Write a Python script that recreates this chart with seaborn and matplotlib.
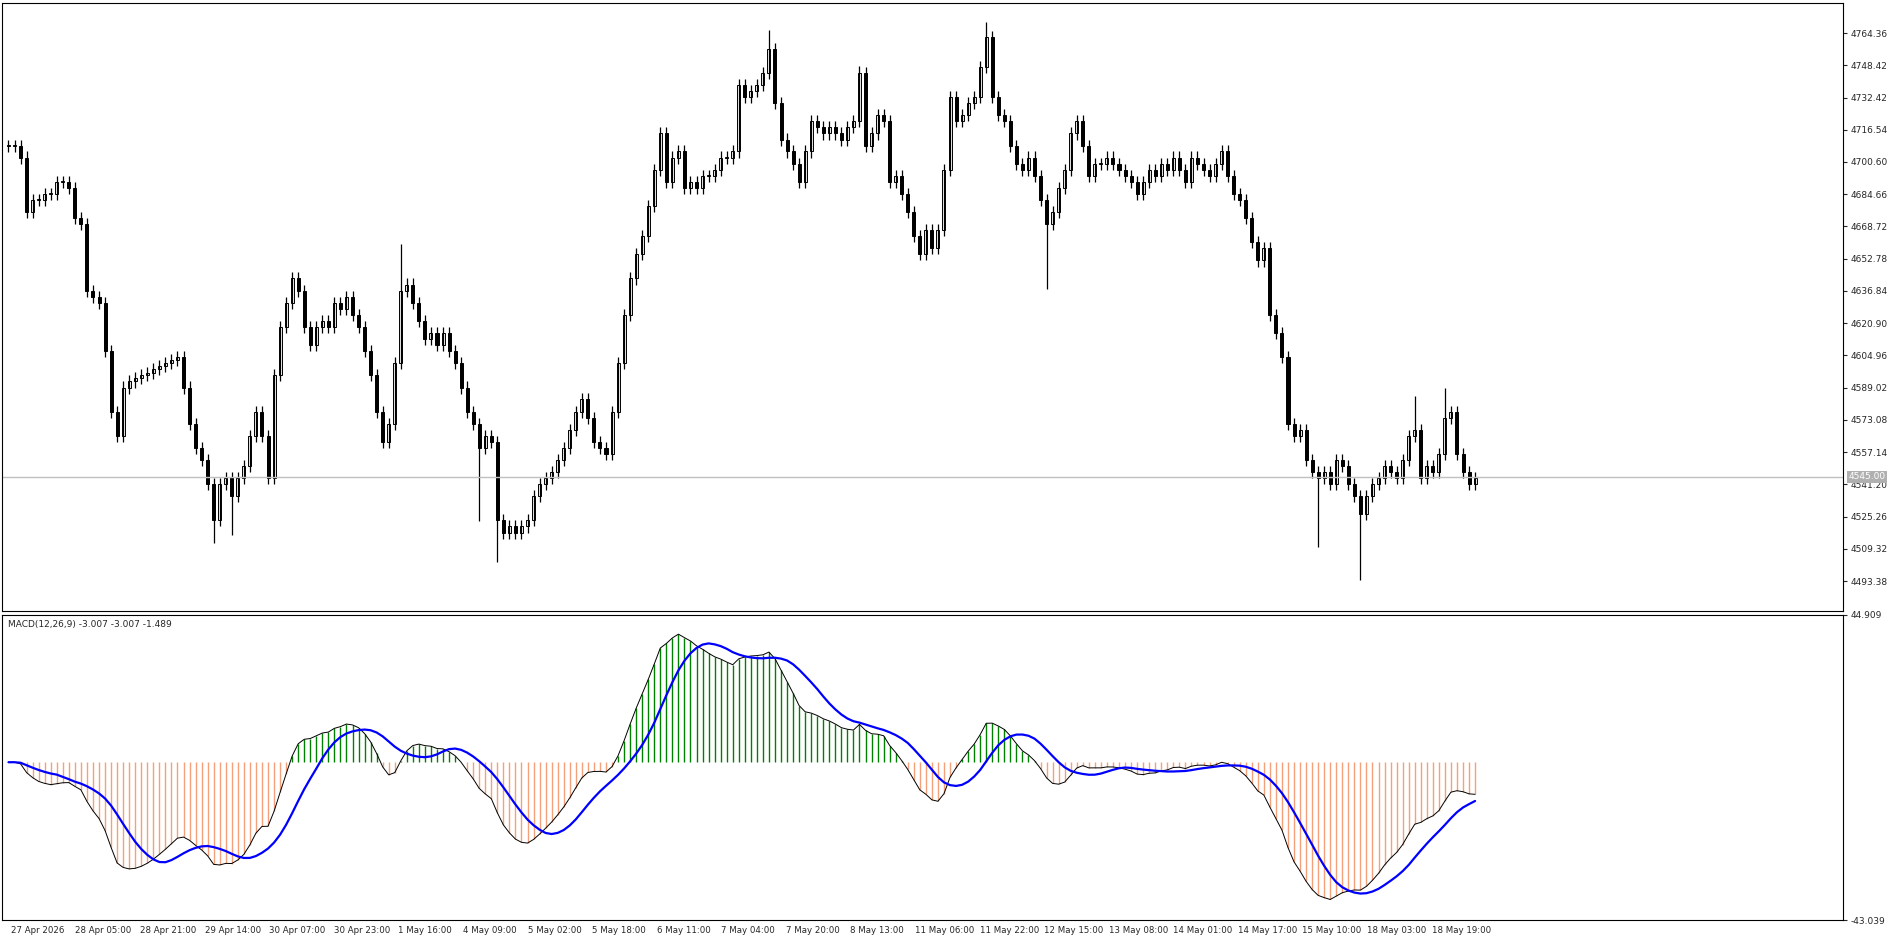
import numpy as np
import pandas as pd
import seaborn as sns
import matplotlib.pyplot as plt

# closes (about one bar every 1.5 hours)
closes = [
    4708.7, 4708.7, 4702.8, 4675.9, 4681.8, 4681.8, 4684.8, 4684.8, 4690.8, 4690.8,
    4687.8, 4672.9, 4669.9, 4637.0, 4634.0, 4631.0, 4607.1, 4577.2, 4565.2, 4589.1,
    4592.1, 4593.9, 4595.1, 4596.3, 4598.1, 4599.9, 4601.1, 4602.9, 4604.1, 4589.1,
    4571.2, 4559.2, 4553.3, 4541.3, 4523.4, 4541.3, 4544.3, 4535.3, 4544.3, 4550.3,
    4565.2, 4577.2, 4565.2, 4544.3, 4595.1, 4619.0, 4631.0, 4643.0, 4637.0, 4619.0,
    4610.1, 4619.0, 4622.0, 4619.0, 4631.0, 4628.0, 4634.0, 4625.0, 4619.0, 4607.1,
    4595.1, 4577.2, 4562.2, 4571.2, 4601.1, 4637.0, 4640.0, 4631.0, 4622.0, 4613.1,
    4616.0, 4610.1, 4616.0, 4607.1, 4601.1, 4589.1, 4577.2, 4571.2, 4559.2, 4565.2,
    4562.2, 4523.4, 4517.4, 4520.4, 4517.4, 4520.4, 4523.4, 4535.3, 4541.3, 4544.3,
    4547.3, 4553.3, 4559.2, 4568.2, 4577.2, 4583.2, 4574.2, 4562.2, 4559.2, 4556.3,
    4577.2, 4601.1, 4625.0, 4643.0, 4654.9, 4663.9, 4678.8, 4696.8, 4714.7, 4690.8,
    4702.8, 4705.8, 4687.8, 4690.8, 4687.8, 4693.8, 4693.8, 4696.8, 4702.8, 4702.8,
    4705.8, 4738.6, 4732.7, 4735.6, 4738.6, 4744.6, 4756.6, 4729.7, 4711.7, 4705.8,
    4699.8, 4690.8, 4705.8, 4720.7, 4717.7, 4714.7, 4717.7, 4714.7, 4711.7, 4717.7,
    4720.7, 4744.6, 4708.7, 4714.7, 4723.7, 4720.7, 4690.8, 4693.8, 4684.8, 4675.9,
    4663.9, 4654.9, 4666.9, 4657.9, 4666.9, 4696.8, 4732.7, 4720.7, 4723.7, 4729.7,
    4732.7, 4747.6, 4762.6, 4732.7, 4723.7, 4720.7, 4708.7, 4699.8, 4696.8, 4702.8,
    4693.8, 4681.8, 4669.9, 4675.9, 4687.8, 4696.8, 4714.7, 4720.7, 4708.7, 4693.8,
    4699.8, 4699.8, 4702.8, 4699.8, 4696.8, 4693.8, 4690.8, 4684.8, 4690.8, 4696.8,
    4693.8, 4699.8, 4696.8, 4702.8, 4696.8, 4690.8, 4702.8, 4699.8, 4696.8, 4693.8,
    4699.8, 4705.8, 4693.8, 4684.8, 4681.8, 4672.9, 4660.9, 4651.9, 4657.9, 4625.0,
    4616.0, 4604.1, 4571.2, 4565.2, 4568.2, 4553.3, 4547.3, 4544.3, 4547.3, 4541.3,
    4553.3, 4550.3, 4541.3, 4535.3, 4526.4, 4535.3, 4541.3, 4544.3, 4550.3, 4547.3,
    4544.3, 4553.3, 4565.2, 4568.2, 4544.3, 4550.3, 4547.3, 4556.3, 4574.2, 4577.2,
    4556.3, 4547.3, 4541.3, 4544.3,
]
# long wicks visible on the chart: bar index -> extreme price
spike_lows = {34: 4512, 37: 4516, 78: 4523, 81: 4503, 172: 4638, 217: 4510, 224: 4494}
spike_highs = {65: 4660, 126: 4766, 141: 4748, 162: 4770, 233: 4585, 238: 4589}
wick = 3.0
current_price = 4545.0

price_ticks = [4493.38, 4509.32, 4525.26, 4541.20, 4557.14, 4573.08, 4589.02, 4604.96,
               4620.90, 4636.84, 4652.78, 4668.72, 4684.66, 4700.60, 4716.54, 4732.42,
               4748.42, 4764.36]
time_labels = ["27 Apr 2026", "28 Apr 05:00", "28 Apr 21:00", "29 Apr 14:00", "30 Apr 07:00",
               "30 Apr 23:00", "1 May 16:00", "4 May 09:00", "5 May 02:00", "5 May 18:00",
               "6 May 11:00", "7 May 04:00", "7 May 20:00", "8 May 13:00", "11 May 06:00",
               "11 May 22:00", "12 May 15:00", "13 May 08:00", "14 May 01:00", "14 May 17:00",
               "15 May 10:00", "18 May 03:00", "18 May 19:00"]

df = pd.DataFrame({"close": closes})
df["open"] = df["close"].shift(1).fillna(df["close"].iloc[0])
df["high"] = df[["open", "close"]].max(axis=1) + wick
df["low"] = df[["open", "close"]].min(axis=1) - wick
for k, v in spike_lows.items():
    df.loc[k, "low"] = v
for k, v in spike_highs.items():
    df.loc[k, "high"] = v
df["i"] = np.arange(len(df))

ema12 = df["close"].ewm(span=12, adjust=False).mean()
ema26 = df["close"].ewm(span=26, adjust=False).mean()
df["macd"] = ema12 - ema26
df["signal"] = df["macd"].rolling(9, min_periods=1).mean()

sns.set_style("white")
plt.rcParams["font.family"] = ["DejaVu Sans"]
fig = plt.figure(figsize=(18.88, 9.36), dpi=100)
ax = fig.add_axes([0.0013, 0.347, 0.975, 0.650])
ax2 = fig.add_axes([0.0013, 0.017, 0.975, 0.326])

# candles
up = df["close"] >= df["open"]
ax.vlines(df["i"], df["low"], df["high"], color="black", lw=0.9)
body_lo = df[["open", "close"]].min(axis=1)
body_h = (df["close"] - df["open"]).abs().clip(lower=0.4)
ax.bar(df["i"][up], body_h[up], bottom=body_lo[up], width=0.5, color="white",
       edgecolor="black", lw=0.7)
ax.bar(df["i"][~up], body_h[~up], bottom=body_lo[~up], width=0.5, color="black",
       edgecolor="black", lw=0.7)
ax.axhline(current_price, color="#c0c0c0", lw=1)

xmax = 304
ax.set_xlim(-1, xmax)
ax.set_ylim(4478.5, 4779.3)
ax.yaxis.tick_right()
ax.set_yticks(price_ticks)
ax.set_yticklabels([f"{t:.2f}" for t in price_ticks], fontsize=6.5)
ax.tick_params(axis="y", length=3, direction="out", pad=2)
ax.set_xticks([])
ax.text(1.003, (current_price - 4478.5) / (4779.3 - 4478.5), f"{current_price:.2f}",
        transform=ax.transAxes, fontsize=6.5, color="white", va="center",
        bbox=dict(facecolor="#b0b0b0", edgecolor="none", pad=1))

# MACD panel
pos = df["macd"] >= 0
ax2.vlines(df["i"][pos], 0, df["macd"][pos], color="#008000", lw=1)
ax2.vlines(df["i"][~pos], 0, df["macd"][~pos], color="#f4a07a", lw=1)
sns.lineplot(data=df, x="i", y="macd", ax=ax2, color="black", lw=0.7)
sns.lineplot(data=df, x="i", y="signal", ax=ax2, color="#0000ff", lw=1.6)
top = df["macd"].max() * 1.15
bot = df["macd"].min() * 1.15
ax2.set_xlim(-1, xmax)
ax2.set_ylim(bot, top)
ax2.yaxis.tick_right()
ax2.set_yticks([bot, top])
ax2.set_yticklabels(["-43.039", "44.909"], fontsize=6.5)
ax2.tick_params(axis="y", length=3, pad=2)
ax2.set_xlabel("")
ax2.set_ylabel("")
ax2.text(0.003, 0.985, "MACD(12,26,9) -3.007 -3.007 -1.489",
         transform=ax2.transAxes, fontsize=6.5, va="top")

tick_pos = [0.4 + k * 10.7 for k in range(len(time_labels))]
ax2.set_xticks(tick_pos)
ax2.set_xticklabels(time_labels, fontsize=6.2, ha="left")
ax2.tick_params(axis="x", length=3, pad=1)

for a in (ax, ax2):
    for s in a.spines.values():
        s.set_color("black")
        s.set_linewidth(0.8)

fig.savefig("out.png", dpi=100)
